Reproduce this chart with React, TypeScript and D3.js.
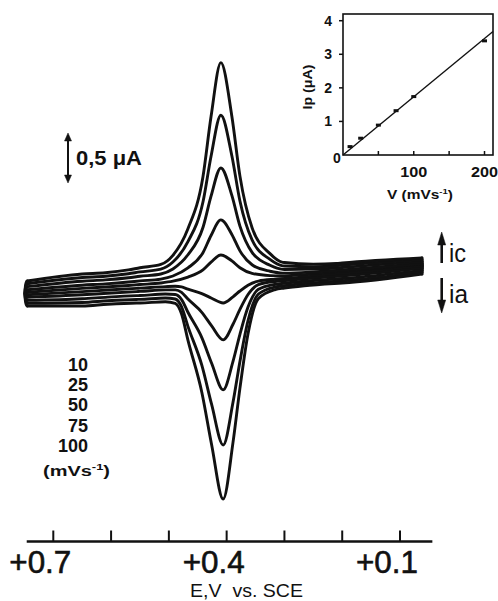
import React from "react";
import * as d3 from "d3";

// ---------- Main cyclic voltammograms ----------
const mainRates = [10, 25, 50, 75, 100]; // mV/s
const cathPeak = [0.253, 0.58, 1.07, 1.57, 2.07]; // µA above background
const anodPeak = [0.205, 0.55, 1.02, 1.545, 2.06]; // µA below background
const chargeFrac = [0.1, 0.3, 0.55, 0.78, 1.0]; // relative charging current
const Epc = 0.41;
const Epa = 0.406;

// background (charging) band: centre and half-width for the fastest scan
const bgE = [0.745, 0.65, 0.55, 0.3, 0.2, 0.062];
const bgMid = [-0.135, -0.1, -0.065, 0.025, 0.07, 0.14];
const bgHalf = [0.125, 0.16, 0.155, 0.09, 0.1, 0.08];

// peak profiles (fraction of peak height vs E - Ep)
const cathDE = [0.2, 0.16, 0.104, 0.083, 0.057, 0.031, 0.017, 0, -0.019, -0.033, -0.054, -0.085, -0.107, -0.16, -0.2];
const cathFrac = [0, 0.008, 0.03, 0.073, 0.2, 0.45, 0.74, 1, 0.74, 0.45, 0.2, 0.073, 0.03, 0.008, 0];
const anodDE = [0.2, 0.15, 0.1, 0.083, 0.072, 0.061, 0.037, 0.02, 0, -0.017, -0.029, -0.043, -0.061, -0.09, -0.14, -0.2];
const anodFrac = [0, 0.004, 0.012, 0.025, 0.08, 0.21, 0.47, 0.73, 1, 0.73, 0.47, 0.21, 0.045, 0.01, 0.002, 0];

const xTicks = [0.7, 0.6, 0.5, 0.4, 0.3, 0.2, 0.1];
const xLabelTicks = [0.7, 0.4, 0.1];
const xLabels = ["+0.7", "+0.4", "+0.1"];
const legendLabels = ["10", "25", "50", "75", "100"];

// ---------- Inset ----------
const insetRates = [10, 25, 50, 75, 100, 200];
const insetIp = [0.25, 0.5, 0.89, 1.32, 1.74, 3.4];
const fitV = [0, 212];
const fitI = [0, 3.68];
const insetYTicks = [1, 2, 3, 4];
const insetXTicks = [50, 100, 150, 200];
const insetXLabels = [100, 200];

const INK = "#111";
const FONT = "'Liberation Sans', Arial, Helvetica, sans-serif";

export default function App() {
  const W = 498, H = 601;
  const xE = d3.scaleLinear().domain([0.7, 0.1]).range([53.3, 400]);
  const yI = d3.scaleLinear().domain([0, 1]).range([280, 180]);

  const mid = d3.scaleLinear().domain(bgE).range(bgMid).clamp(true);
  const half = d3.scaleLinear().domain(bgE).range(bgHalf).clamp(true);
  const cProf = d3.scaleLinear().domain(cathDE).range(cathFrac).clamp(true);
  const aProf = d3.scaleLinear().domain(anodDE).range(anodFrac).clamp(true);

  const Eleft = bgE[0];
  const Eright = bgE[bgE.length - 1];

  const line = d3
    .line<[number, number]>()
    .x((d) => xE(d[0]))
    .y((d) => yI(d[1]))
    .curve(d3.curveMonotoneX);

  const sampleEs = (ep: number, prof: number[]) => {
    const all = [...bgE, ...prof.map((d) => ep + d)].filter((e) => e <= Eleft && e >= Eright);
    return Array.from(new Set(all.map((e) => +e.toFixed(5)))).sort((a, b) => b - a);
  };

  const curves = mainRates.map((_, i) => {
    const upE = sampleEs(Epc, cathDE);
    const loE = sampleEs(Epa, anodDE);
    const up: [number, number][] = upE.map((e) => [e, mid(e) + chargeFrac[i] * half(e) + cathPeak[i] * cProf(e - Epc)]);
    const lo: [number, number][] = loE.map((e) => [e, mid(e) - chargeFrac[i] * half(e) - anodPeak[i] * aProf(e - Epa)]);
    return { up, lo };
  });

  // inset scales
  const xV = d3.scaleLinear().domain([0, 212]).range([343, 493]);
  const yP = d3.scaleLinear().domain([0, 4.2]).range([155, 14]);

  const axisY = 541.5;

  return (
    <svg width={W} height={H} style={{ position: "absolute", left: 0, top: 0, background: "#fff" }} fontFamily={FONT}>
      <rect x={0} y={0} width={W} height={H} fill="#fff" />

      {/* voltammograms */}
      <g fill="none" stroke={INK} strokeWidth={2.9} strokeLinecap="round" strokeLinejoin="round">
        {curves.map((c, i) => (
          <g key={i}>
            <path d={line(c.up) || ""} />
            <path d={line(c.lo) || ""} />
            <path
              d={`M${xE(c.up[0][0])},${yI(c.up[0][1])} C${xE(c.up[0][0]) - 3},${yI(c.up[0][1])} ${xE(c.lo[0][0]) - 3},${yI(c.lo[0][1])} ${xE(c.lo[0][0])},${yI(c.lo[0][1])}`}
            />
            <path
              d={`M${xE(c.up[c.up.length - 1][0])},${yI(c.up[c.up.length - 1][1])} L${xE(c.lo[c.lo.length - 1][0])},${yI(c.lo[c.lo.length - 1][1])}`}
            />
          </g>
        ))}
      </g>

      {/* x axis */}
      <line x1={xE(0.746)} x2={xE(0.044)} y1={axisY} y2={axisY} stroke={INK} strokeWidth={2.4} />
      {xTicks.map((t) => (
        <line key={t} x1={xE(t)} x2={xE(t)} y1={axisY} y2={axisY - 11} stroke={INK} strokeWidth={2} />
      ))}
      {xLabelTicks.map((t, i) => (
        <text key={t} x={xE(t) - 44} y={573} fontSize={32} fill={INK} stroke={INK} strokeWidth={0.6} textLength={62} lengthAdjust="spacingAndGlyphs">
          {xLabels[i]}
        </text>
      ))}
      <text x={190} y={596.5} fontSize={18} fill={INK} textLength={113} lengthAdjust="spacingAndGlyphs" style={{ whiteSpace: "pre" }}>
        {"E,V\u00A0\u00A0vs. SCE"}
      </text>

      {/* scale bar */}
      <g stroke={INK} fill={INK}>
        <line x1={68} x2={68} y1={yI(1.45) + 4} y2={yI(0.97) - 4} strokeWidth={2} />
        <polygon points={`68,${yI(1.47)} 64.5,${yI(1.47) + 8} 71.5,${yI(1.47) + 8}`} strokeWidth={0.5} />
        <polygon points={`68,${yI(0.97)} 64.5,${yI(0.97) - 8} 71.5,${yI(0.97) - 8}`} strokeWidth={0.5} />
      </g>
      <text x={76} y={165} fontSize={21} fontWeight="bold" fill={INK} textLength={66} lengthAdjust="spacingAndGlyphs">
        0,5 μA
      </text>

      {/* ic / ia arrows */}
      <g stroke={INK} fill={INK}>
        <line x1={441.7} x2={441.7} y1={240} y2={263} strokeWidth={2.6} />
        <polygon points="441.7,232 437.7,245 445.7,245" strokeWidth={0.5} />
        <line x1={441.7} x2={441.7} y1={278} y2={304} strokeWidth={2.6} />
        <polygon points="441.7,313 437.7,300 445.7,300" strokeWidth={0.5} />
      </g>
      <text x={449} y={262} fontSize={26} fill={INK} textLength={17} lengthAdjust="spacingAndGlyphs">ic</text>
      <text x={449} y={303} fontSize={26} fill={INK} textLength={19} lengthAdjust="spacingAndGlyphs">ia</text>

      {/* legend */}
      {legendLabels.map((l, i) => (
        <text key={l} x={88} y={371 + i * 20.2} fontSize={18} fontWeight="bold" fill={INK} textAnchor="end">
          {l}
        </text>
      ))}
      <text x={43} y={476} fontSize={14} fontWeight="bold" fill={INK} textLength={67} lengthAdjust="spacingAndGlyphs">
        (mVs<tspan dy={-6} fontSize={9}>-1</tspan><tspan dy={6}>)</tspan>
      </text>

      {/* inset */}
      <g>
        <rect x={xV(0)} y={yP(4.2)} width={xV(212) - xV(0)} height={yP(0) - yP(4.2)} fill="none" stroke={INK} strokeWidth={1.6} />
        {insetYTicks.map((t) => (
          <g key={t}>
            <line x1={xV(0) - 4} x2={xV(0)} y1={yP(t)} y2={yP(t)} stroke={INK} strokeWidth={1.5} />
            <text x={332} y={yP(t) + 5} fontSize={14} fontWeight="bold" textAnchor="end" fill={INK}>
              {t}
            </text>
          </g>
        ))}
        <text x={337} y={163} fontSize={14} fontWeight="bold" textAnchor="middle" fill={INK}>0</text>
        {insetXTicks.map((t) => (
          <line key={t} x1={xV(t)} x2={xV(t)} y1={yP(0)} y2={yP(0) - 4} stroke={INK} strokeWidth={1.5} />
        ))}
        {insetXLabels.map((t) => (
          <text key={t} x={xV(t)} y={177} fontSize={14} fontWeight="bold" textAnchor="middle" fill={INK} textLength={27} lengthAdjust="spacingAndGlyphs">
            {t}
          </text>
        ))}
        <line x1={xV(fitV[0])} y1={yP(fitI[0])} x2={xV(fitV[1])} y2={yP(fitI[1])} stroke={INK} strokeWidth={1.4} />
        {insetRates.map((v, i) => (
          <rect key={v} x={xV(v) - 2.5} y={yP(insetIp[i]) - 1.5} width={5} height={3} fill={INK} />
        ))}
        <text x={387} y={199} fontSize={13} fontWeight="bold" fill={INK} textLength={66} lengthAdjust="spacingAndGlyphs">
          V (mVs<tspan dy={-5} fontSize={8}>-1</tspan><tspan dy={5}>)</tspan>
        </text>
        <text transform="translate(312,87) rotate(-90)" fontSize={13} fontWeight="bold" fill={INK} textAnchor="middle" textLength={45} lengthAdjust="spacingAndGlyphs">
          Ip (μA)
        </text>
      </g>
    </svg>
  );
}
